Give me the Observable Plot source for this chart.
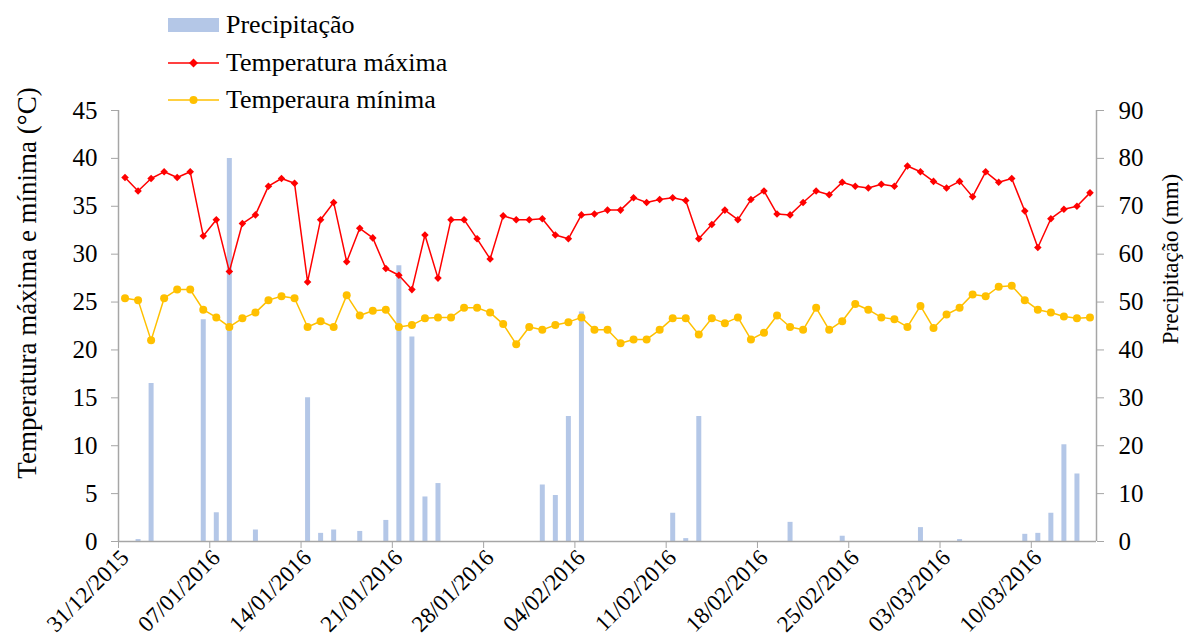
<!DOCTYPE html>
<html>
<head>
<meta charset="utf-8">
<script src="https://cdn.jsdelivr.net/npm/d3@7"></script>
<script src="https://cdn.jsdelivr.net/npm/@observablehq/plot@0.6"></script>
<style>
  html, body { margin: 0; padding: 0; background: #fff; }
  #wrap { position: relative; width: 1184px; height: 641px; overflow: hidden; font-family: "Liberation Serif", "Times New Roman", serif; }
  #legend { position: absolute; left: 0; top: 0; width: 600px; height: 98px; z-index: 2; }
  .row { position: absolute; left: 168px; height: 30px; display: flex; align-items: center; font-size: 26px; line-height: 30px; color: #000; white-space: nowrap; }
  .row svg { margin-right: 7px; flex: none; }
  #chart { position: absolute; left: 0; top: 98px; }
  #chart svg, #chart svg text { font-family: "Liberation Serif", "Times New Roman", serif !important; }
</style>
</head>
<body>
<div id="wrap">
  <div id="legend"></div>
  <div id="chart"></div>
</div>
<script>
// ---- Data ----
const startDate = "31/12/2015";   // first day of the series (daily)
const endDate = "15/03/2016";     // day after the last day
const tickLabels = ["31/12/2015","07/01/2016","14/01/2016","21/01/2016","28/01/2016","04/02/2016","11/02/2016","18/02/2016","25/02/2016","03/03/2016","10/03/2016"];

const tempMax = [
  38.0, 36.6, 37.9, 38.6, 38.0, 38.6, 31.9, 33.6, 28.2, 33.2,
  34.1, 37.1, 37.9, 37.4, 27.1, 33.6, 35.4, 29.2, 32.7, 31.7,
  28.5, 27.8, 26.3, 32.0, 27.5, 33.6, 33.6, 31.6, 29.5, 34.0,
  33.6, 33.6, 33.7, 32.0, 31.6, 34.1, 34.2, 34.6, 34.6, 35.9,
  35.4, 35.7, 35.9, 35.6, 31.6, 33.1, 34.6, 33.6, 35.7, 36.6,
  34.2, 34.1, 35.4, 36.6, 36.2, 37.5, 37.1, 36.9, 37.3, 37.1,
  39.2, 38.6, 37.6, 36.9, 37.6, 36.0, 38.6, 37.5, 37.9, 34.5,
  30.7, 33.7, 34.7, 35.0, 36.4
];
const tempMin = [
  25.4, 25.2, 21.0, 25.4, 26.3, 26.3, 24.2, 23.4, 22.4, 23.3,
  23.9, 25.2, 25.6, 25.4, 22.4, 23.0, 22.4, 25.7, 23.6, 24.1,
  24.2, 22.4, 22.6, 23.3, 23.4, 23.4, 24.4, 24.4, 23.9, 22.7,
  20.6, 22.4, 22.1, 22.6, 22.9, 23.4, 22.1, 22.1, 20.7, 21.1,
  21.1, 22.1, 23.3, 23.3, 21.6, 23.3, 22.8, 23.4, 21.1, 21.8,
  23.6, 22.4, 22.1, 24.4, 22.1, 23.0, 24.8, 24.2, 23.4, 23.2,
  22.4, 24.6, 22.3, 23.7, 24.4, 25.8, 25.6, 26.6, 26.7, 25.2,
  24.2, 23.9, 23.5, 23.3, 23.4
];
const precip = [
  0, 0.4, 33.0, 0, 0, 0, 46.3, 6.0, 80.0, 0,
  2.4, 0, 0, 0, 30.0, 1.7, 2.4, 0, 2.1, 0,
  4.4, 57.6, 42.7, 9.3, 12.1, 0, 0, 0, 0, 0,
  0, 0, 11.8, 9.6, 26.1, 47.9, 0, 0, 0, 0,
  0, 0, 5.9, 0.6, 26.1, 0, 0, 0, 0, 0,
  0, 4.0, 0, 0, 0, 1.1, 0, 0, 0, 0,
  0, 2.9, 0, 0, 0.4, 0, 0, 0, 0, 1.5,
  1.7, 5.9, 20.2, 14.1, 0
];
const leftTicks = [0, 5, 10, 15, 20, 25, 30, 35, 40, 45];
const rightTicks = [0, 10, 20, 30, 40, 50, 60, 70, 80, 90];

const seriesNames = ["Precipitação", "Temperatura máxima", "Temperaura mínima"];
const axisTitles = ["Temperatura máxima e mínima (°C)", "Precipitação (mm)"];
const colors = { precip: "#b4c7e7", tmax: "#ff0000", tmin: "#ffc000", axis: "#a6a6a6" };
const serif = "Liberation Serif, Times New Roman, serif";

// ---- Build table ----
const parse = d3.utcParse("%d/%m/%Y");
const x0 = parse(startDate), x1 = parse(endDate);
const days = d3.utcDay.range(x0, x1);
const data = days.map((d, i) => ({
  date: d3.utcHour.offset(d, 12),
  tmax: tempMax[i], tmin: tempMin[i], prec: precip[i]
}));
const ticks = tickLabels.map(t => ({ date: parse(t), label: t }));
const y2 = d3.scaleLinear([0, 90], [0, 45]); // precipitation -> temperature scale

// ---- Legend (HTML, above the SVG) ----
const legend = document.getElementById("legend");
const swatches = [
  `<svg width="51" height="16"><rect x="0" y="1" width="51" height="14" fill="${colors.precip}"/></svg>`,
  `<svg width="51" height="16"><line x1="0" x2="51" y1="8" y2="8" stroke="${colors.tmax}" stroke-width="1.5"/><path d="M25.5,3.5L30,8L25.5,12.5L21,8Z" fill="${colors.tmax}"/></svg>`,
  `<svg width="51" height="16"><line x1="0" x2="51" y1="8" y2="8" stroke="${colors.tmin}" stroke-width="1.5"/><circle cx="25.5" cy="8" r="4" fill="${colors.tmin}"/></svg>`
];
const rowTops = [10, 48, 85];
seriesNames.forEach((name, i) => {
  const r = document.createElement("div");
  r.className = "row";
  r.style.top = rowTops[i] + "px";
  r.innerHTML = swatches[i] + `<span>${name}</span>`;
  legend.appendChild(r);
});

// ---- Chart ----
const chart = Plot.plot({
  width: 1184,
  height: 543,
  marginLeft: 118,
  marginRight: 88,
  marginTop: 12,
  marginBottom: 100,
  style: { fontFamily: serif, fontSize: "25px", color: "#000", background: "#fff", overflow: "visible" },
  x: { type: "utc", domain: [x0, x1] },
  y: { domain: [0, 45] },
  marks: [
    // precipitation bars (right axis)
    Plot.ruleX(data.filter(d => d.prec > 0), { x: "date", y1: 0, y2: d => y2(d.prec), stroke: colors.precip, strokeWidth: 5 }),
    // axis lines
    Plot.ruleX([x0, x1], { stroke: colors.axis, strokeWidth: 1.5 }),
    Plot.ruleY([0], { stroke: colors.axis, strokeWidth: 1.5 }),
    // tick marks
    Plot.axisY(leftTicks, { anchor: "left", tickSize: 7, stroke: colors.axis, fill: "none", label: null }),
    Plot.axisY(rightTicks, { anchor: "right", y: y2, tickSize: 7, stroke: colors.axis, fill: "none", label: null }),
    Plot.axisX(ticks, { x: "date", anchor: "bottom", tickSize: 7, stroke: colors.axis, fill: "none", label: null }),
    // tick labels
    Plot.text(leftTicks, { y: d => d, text: d => String(d), frameAnchor: "left", textAnchor: "end", dx: -21, fontSize: 25, fill: "#000", fontFamily: serif }),
    Plot.text(rightTicks, { y: d => y2(d), text: d => String(d), frameAnchor: "right", textAnchor: "start", dx: 22, fontSize: 25, fill: "#000", fontFamily: serif }),
    Plot.text(ticks, { x: "date", text: "label", frameAnchor: "bottom", textAnchor: "end", lineAnchor: "top", rotate: -45, dx: 0, dy: 6, fontSize: 23, fill: "#000", fontFamily: serif }),
    // lines
    Plot.line(data, { x: "date", y: "tmin", stroke: colors.tmin, strokeWidth: 1.5 }),
    Plot.dot(data, { x: "date", y: "tmin", fill: colors.tmin, r: 4, stroke: null }),
    Plot.line(data, { x: "date", y: "tmax", stroke: colors.tmax, strokeWidth: 1.5 }),
    Plot.dot(data, { x: "date", y: "tmax", fill: colors.tmax, symbol: "diamond2", r: 3.4, stroke: null }),
    // axis titles
    Plot.text([axisTitles[0]], { frameAnchor: "left", textAnchor: "middle", rotate: -90, dx: -91, dy: -43, fontSize: 27, fill: "#000", fontFamily: serif }),
    Plot.text([axisTitles[1]], { frameAnchor: "right", textAnchor: "middle", rotate: -90, dx: 74, dy: -67, fontSize: 23, fill: "#000", fontFamily: serif })
  ]
});
document.getElementById("chart").appendChild(chart);
</script>
</body>
</html>
